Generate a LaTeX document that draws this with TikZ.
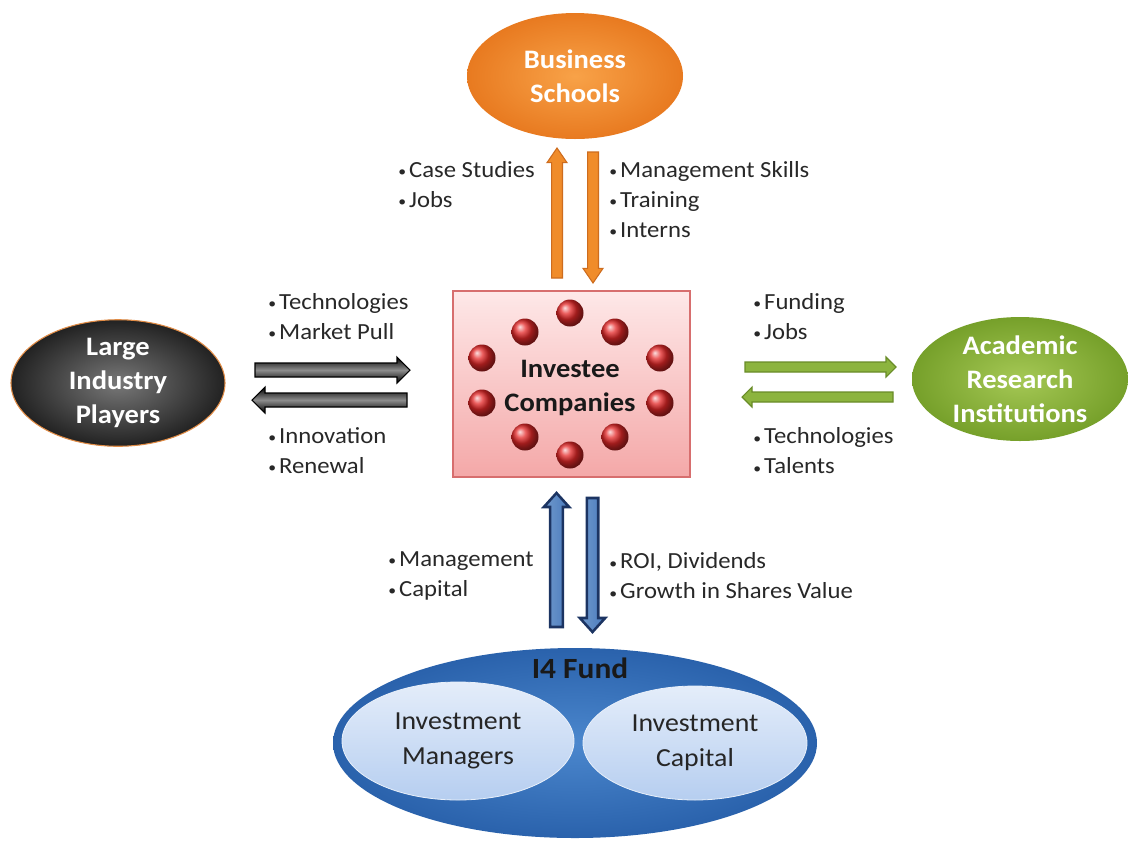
\documentclass[tikz,border=0pt]{standalone}
\usepackage{fontspec}
\setmainfont{Carlito}[FakeStretch=1.07]
\usetikzlibrary{calc,shapes.geometric}

\definecolor{labelgray}{RGB}{40,40,40}
\definecolor{bsInner}{RGB}{248,162,72}
\definecolor{bsOuter}{RGB}{232,122,32}
\definecolor{lipInner}{RGB}{120,120,120}
\definecolor{lipOuter}{RGB}{34,34,34}
\definecolor{lipEdge}{RGB}{225,140,70}
\definecolor{ariInner}{RGB}{165,200,85}
\definecolor{ariOuter}{RGB}{118,160,42}
\definecolor{boxTop}{RGB}{254,232,232}
\definecolor{boxBottom}{RGB}{244,168,168}
\definecolor{boxEdge}{RGB}{215,110,110}
\definecolor{ballred}{RGB}{228,40,40}
\definecolor{fundInner}{RGB}{75,135,205}
\definecolor{fundOuter}{RGB}{42,98,172}
\definecolor{subTop}{RGB}{228,237,250}
\definecolor{subBottom}{RGB}{182,206,240}
\definecolor{orFill}{RGB}{240,140,42}
\definecolor{orEdge}{RGB}{205,108,30}
\definecolor{grFill}{RGB}{140,180,62}
\definecolor{grEdge}{RGB}{105,140,40}
\definecolor{blFill}{RGB}{75,125,190}
\definecolor{blEdge}{RGB}{28,52,98}

% small list bullet in a fixed-width slot
\newcommand\bul{\makebox[8.2pt][l]{\raisebox{0.7pt}{\fontsize{11}{11}\selectfont•}}}

% block arrow: style, from, to, shaft half width, head half width, head length
\newcommand\blockarrow[6]{%
  \coordinate (ba-h) at ($(#3)!#6!(#2)$);
  \path[#1] ($(#2)!#4!90:(#3)$) -- ($(ba-h)!#4!90:(#3)$) -- ($(ba-h)!#5!90:(#3)$)
    -- (#3) -- ($(ba-h)!#5!-90:(#3)$) -- ($(ba-h)!#4!-90:(#3)$)
    -- ($(#2)!#4!-90:(#3)$) -- cycle;}

\begin{document}
\begin{tikzpicture}[x=0.75pt,y=-0.75pt,
  bignode/.style={ellipse, inner sep=0pt, align=center,
    font=\fontsize{20}{25.5}\selectfont\bfseries},
  bullets/.style={anchor=west, inner sep=0pt, align=left, text=labelgray,
    font=\fontsize{17.3}{22.5}\selectfont},
  ball/.style={circle, inner sep=0pt, minimum size=20.25pt, shading=ball, ball color=ballred},
  subnode/.style={ellipse, inner sep=0pt, align=center, top color=subTop, bottom color=subBottom,
    draw=white!70!subBottom, line width=0.6pt, font=\fontsize{19.5}{26}\selectfont, text=black!85},
  orarrow/.style={fill=orFill, draw=orEdge, line width=0.8pt},
  grarrow/.style={fill=grFill, draw=grEdge, line width=0.8pt},
  blarrow/.style={left color=blFill!80!white, right color=blFill, draw=blEdge, line width=1.9pt},
  bkarrow/.style={top color=black, bottom color=black, middle color=black!45, draw=black, line width=0.8pt},
]
\useasboundingbox[fill=white] (0,0) rectangle (1128,840);

% partner organisations
\node[bignode, minimum width=162pt, minimum height=94.5pt, inner color=bsInner, outer color=bsOuter,
  text=white] (bs) at (575,76) {Business\\Schools};
\node[bignode, minimum width=160.5pt, minimum height=93pt, inner color=lipInner, outer color=lipOuter,
  draw=lipEdge, line width=0.8pt, text=white] (lip) at (118,383) {Large\\Industry\\Players};
\node[bignode, minimum width=162pt, minimum height=93pt, inner color=ariInner, outer color=ariOuter,
  text=white] (ari) at (1020,379) {Academic\\Research\\Institutions};

% investee companies
\node[rectangle, minimum width=177.75pt, minimum height=139.5pt, top color=boxTop, bottom color=boxBottom,
  draw=boxEdge, line width=0.8pt] (ic) at (571.5,384) {};
\foreach \i/\p in {1/{(570,313)},2/{(615,332)},3/{(660,358)},4/{(660,403)},5/{(615,437)},
                   6/{(570,455)},7/{(525,437)},8/{(482,403)},9/{(482,358)},10/{(525,332)}}
  \node[ball] (ball\i) at \p {};
\node[align=center, inner sep=0pt, font=\fontsize{20}{25.5}\selectfont\bfseries, text=black!90]
  (ict) at (570,388) {Investee\\Companies};

% the fund
\node[ellipse, minimum width=363pt, minimum height=142.5pt, inner sep=0pt,
  inner color=fundInner, outer color=fundOuter] (fund) at (575,743) {};
\node[font=\fontsize{22}{26}\selectfont\bfseries, text=black!90, inner sep=0pt] (fundt) at (580,668) {I4 Fund};
\node[subnode, minimum width=174pt, minimum height=88.5pt] (im) at (458,741) {Investment\\Managers};
\node[subnode, minimum width=168pt, minimum height=85.5pt] (icap) at (695,743) {Investment\\Capital};

% arrow end points
\coordinate (bsUpA) at (557,278);   \coordinate (bsUpB) at (557,148);
\coordinate (bsDnA) at (593,152);   \coordinate (bsDnB) at (593,283);
\coordinate (lipRtA) at (255,370);  \coordinate (lipRtB) at (410,370);
\coordinate (lipLfA) at (407,400);  \coordinate (lipLfB) at (252,400);
\coordinate (ariRtA) at (745,367);  \coordinate (ariRtB) at (896,367);
\coordinate (ariLfA) at (893,397);  \coordinate (ariLfB) at (742,397);
\coordinate (fundUpA) at (556.5,627); \coordinate (fundUpB) at (556.5,493);
\coordinate (fundDnA) at (592.5,498); \coordinate (fundDnB) at (592.5,632);

% flows
\blockarrow{orarrow}{bsUpA}{bsUpB}{4.1pt}{7.5pt}{11pt}
\blockarrow{orarrow}{bsDnA}{bsDnB}{4.1pt}{7.5pt}{11pt}
\blockarrow{bkarrow}{lipRtA}{lipRtB}{5.25pt}{9.75pt}{9.75pt}
\blockarrow{bkarrow}{lipLfA}{lipLfB}{5.25pt}{9.75pt}{9.75pt}
\blockarrow{grarrow}{ariRtA}{ariRtB}{3.75pt}{7.5pt}{7.5pt}
\blockarrow{grarrow}{ariLfA}{ariLfB}{3.75pt}{7.5pt}{7.5pt}
\blockarrow{blarrow}{fundUpA}{fundUpB}{4.8pt}{9.5pt}{10.5pt}
\blockarrow{blarrow}{fundDnA}{fundDnB}{4.3pt}{9.5pt}{10.5pt}

% flow labels
\node[bullets] (lbCase) at (398,185) {\bul Case Studies\\\bul Jobs};
\node[bullets] (lbMgmt) at (609,200) {\bul Management Skills\\\bul Training\\\bul Interns};
\node[bullets] (lbTech) at (268,317) {\bul Technologies\\\bul Market Pull};
\node[bullets] (lbInno) at (268,451) {\bul Innovation\\\bul Renewal};
\node[bullets] (lbFund) at (753,317) {\bul Funding\\\bul Jobs};
\node[bullets] (lbTal) at (753,451) {\bul Technologies\\\bul Talents};
\node[bullets] (lbMan) at (388,576) {\bul Management\\\bul Capital};
\node[bullets] (lbRoi) at (609,576) {\bul ROI, Dividends\\\bul Growth in Shares Value};
\end{tikzpicture}
\end{document}
